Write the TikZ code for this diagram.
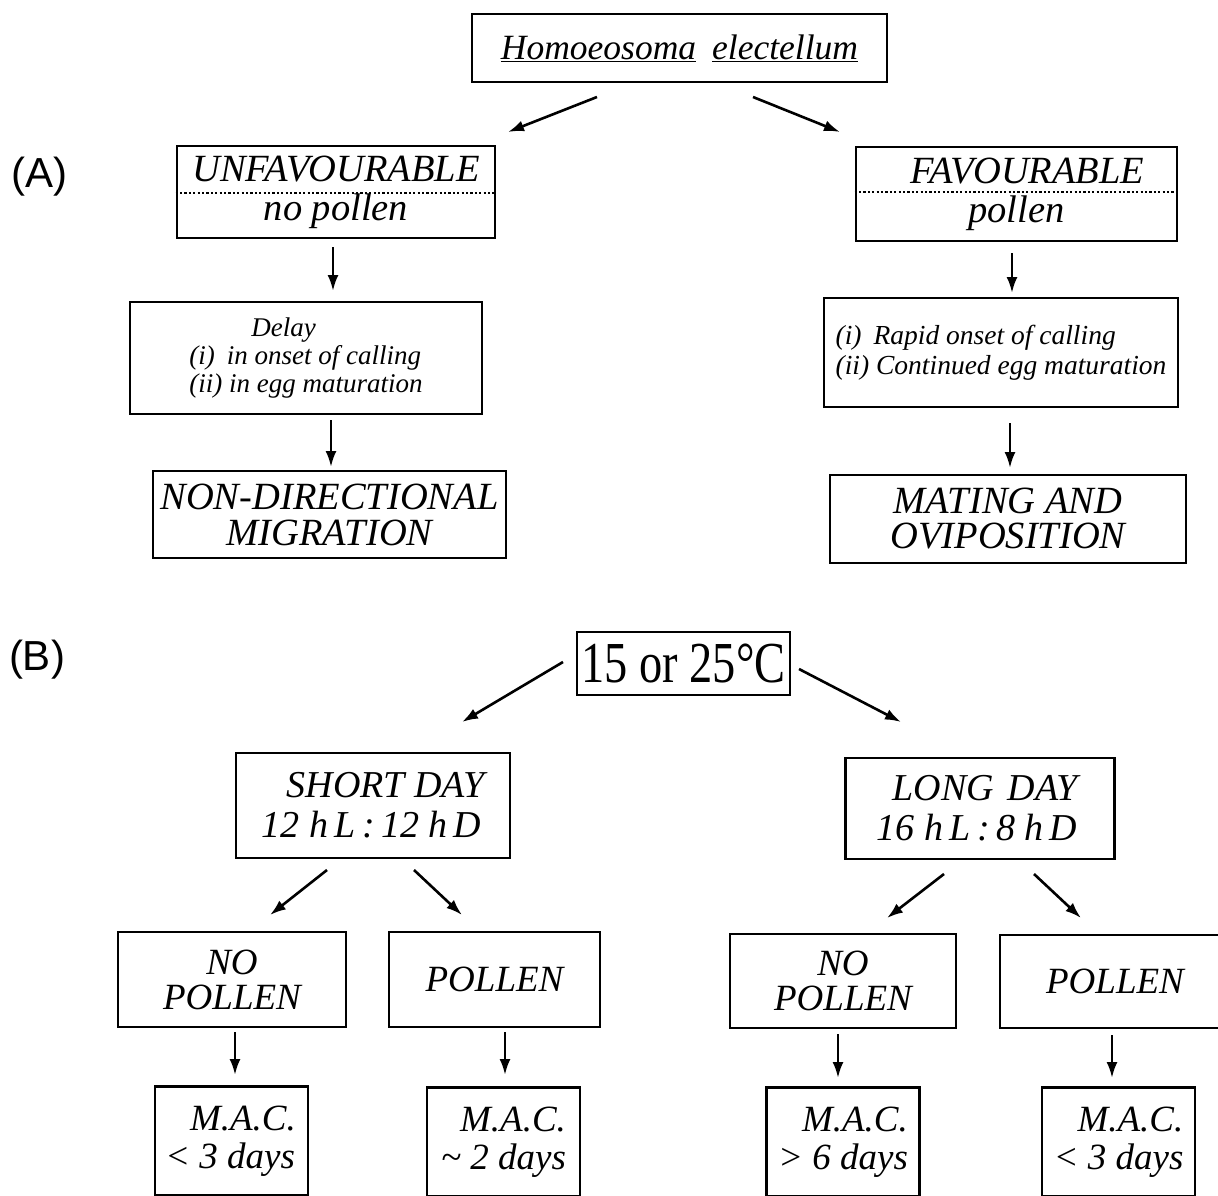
\documentclass[tikz,border=0pt]{standalone}
\usepackage{fontspec}
\usepackage{graphicx}
\setmainfont{Liberation Serif}
\newfontfamily\labfont{Liberation Sans}
\usetikzlibrary{arrows.meta}
\begin{document}
\begin{tikzpicture}[x=1pt,y=-1pt,
  box/.style={draw, line width=2.8pt, inner sep=0pt, align=center},
  bigit/.style={font=\fontsize{38.5}{39}\selectfont\itshape},
  smallit/.style={font=\fontsize{27}{28}\selectfont\itshape},
  arr/.style={line width=2.6pt, -{Latex[length=16pt,width=11pt]}},
  dotline/.style={line width=1.8pt, dash pattern=on 2.2pt off 2.2pt},
  panel/.style={font=\fontsize{42}{44}\selectfont\labfont}]
\useasboundingbox (0,0) rectangle (1218,1196);

% panel labels
\node[panel] (labA) at (39.5,177) {(A)};
\node[panel] (labB) at (37,660) {(B)};

% ---------- (A) ----------
\node[box, minimum width=415, minimum height=68, font=\fontsize{35.5}{38}\selectfont\itshape] (top) at (679.5,48)
  {\underline{Homoeosoma}\hspace{16pt}\underline{electellum}};

\node[box, bigit, minimum width=318, minimum height=92] (unf) at (336,192)
  {UNFAVOURABLE\\no pollen};
\draw[dotline] ([yshift=-1pt]unf.west) -- ([yshift=-1pt]unf.east);

\node[box, bigit, minimum width=321, minimum height=94] (fav) at (1016.5,194)
  {\hspace*{22pt}FAVOURABLE\\pollen};
\draw[dotline] ([yshift=2pt]fav.west) -- ([yshift=2pt]fav.east);

\node[box, smallit, align=left, minimum width=352, minimum height=112] (delay) at (306,358)
  {\hspace*{62pt}Delay\\(i)\hspace{12pt}in onset of calling\\(ii) in egg maturation};

\node[box, align=left, minimum width=354, minimum height=109,
  font=\fontsize{27.5}{30}\selectfont\itshape] (rapid) at (1001,352.5)
  {(i)\hspace{12pt}Rapid onset of calling\\(ii) Continued egg maturation};

\node[box, minimum width=353, minimum height=87, font=\fontsize{38.5}{36}\selectfont\itshape] (nondir) at (329.5,514.5)
  {NON-DIRECTIONAL\\MIGRATION};

\node[box, minimum width=356, minimum height=88, font=\fontsize{38.5}{35}\selectfont\itshape] (mating) at (1008,519)
  {MATING AND\\OVIPOSITION};

% arrows (A)
\coordinate (t1) at (597,97);   \coordinate (t1e) at (508,132);
\coordinate (t2) at (753,97);   \coordinate (t2e) at (840,132);
\coordinate (u1) at (333,247);  \coordinate (u1e) at (333,291);
\coordinate (d1) at (331,420);  \coordinate (d1e) at (331,467);
\coordinate (f1) at (1012,253); \coordinate (f1e) at (1012,293);
\coordinate (r1) at (1010,423); \coordinate (r1e) at (1010,468);
\draw[arr] (t1) -- (t1e);
\draw[arr] (t2) -- (t2e);
\draw[arr] (u1) -- (u1e);
\draw[arr] (d1) -- (d1e);
\draw[arr] (f1) -- (f1e);
\draw[arr] (r1) -- (r1e);

% ---------- (B) ----------
\node[box, minimum width=213, minimum height=63, font=\fontsize{58}{60}\selectfont] (temp) at (683.5,663.5)
  {\scalebox{0.8}[1]{15 or 25\textdegree C}};

\node[box, align=right, minimum width=274, minimum height=105, font=\fontsize{38}{40}\selectfont\itshape] (short) at (373,805.5)
  {SHORT DAY\\12 h\,L\,:\,12 h\,D\hspace*{3pt}};

\node[box, align=center, minimum width=269, minimum height=101, font=\fontsize{38}{40}\selectfont\itshape] (long) at (980,808.5)
  {\hspace*{10pt}LONG\hspace{14pt}DAY\\16 h\,L\,:\,8 h\,D\hspace*{6pt}};

\node[box, minimum width=228, minimum height=95, font=\fontsize{37}{35}\selectfont\itshape] (np1) at (232,979.5) {NO\\POLLEN};
\node[box, minimum width=211, minimum height=95, font=\fontsize{37}{35}\selectfont\itshape] (p1) at (494.5,979.5) {POLLEN};
\node[box, minimum width=226, minimum height=94, font=\fontsize{37}{35}\selectfont\itshape] (np2) at (843,981) {NO\\POLLEN};
\node[box, minimum width=230, minimum height=93, font=\fontsize{37}{35}\selectfont\itshape] (p2) at (1115,981.5) {POLLEN};

\tikzset{macbox/.style={box, align=right, minimum width=153, minimum height=109, font=\fontsize{37}{38}\selectfont\itshape}}
\node[macbox] (m1) at (231.5,1141) {M.A.C.\hspace*{2pt}\\< 3 days\hspace*{3pt}};
\node[macbox] (m2) at (503.5,1142) {M.A.C.\\\textasciitilde\ 2 days};
\node[macbox] (m3) at (843,1142) {M.A.C.\\> 6 days};
\node[macbox] (m4) at (1118.5,1142) {M.A.C.\\< 3 days};

% arrows (B)
\coordinate (c1) at (563,662);  \coordinate (c1e) at (462,722);
\coordinate (c2) at (799,669);  \coordinate (c2e) at (901,722);
\coordinate (s1) at (327,870);  \coordinate (s1e) at (270,915);
\coordinate (s2) at (414,870);  \coordinate (s2e) at (462,915);
\coordinate (l1) at (944,874);  \coordinate (l1e) at (887,918);
\coordinate (l2) at (1034,874); \coordinate (l2e) at (1081,918);
\coordinate (n1) at (235,1032); \coordinate (n1e) at (235,1075);
\coordinate (n2) at (505,1032); \coordinate (n2e) at (505,1075);
\coordinate (n3) at (838,1034); \coordinate (n3e) at (838,1078);
\coordinate (n4) at (1112,1035);\coordinate (n4e) at (1112,1078);
\draw[arr] (c1) -- (c1e);
\draw[arr] (c2) -- (c2e);
\draw[arr] (s1) -- (s1e);
\draw[arr] (s2) -- (s2e);
\draw[arr] (l1) -- (l1e);
\draw[arr] (l2) -- (l2e);
\draw[arr] (n1) -- (n1e);
\draw[arr] (n2) -- (n2e);
\draw[arr] (n3) -- (n3e);
\draw[arr] (n4) -- (n4e);
\end{tikzpicture}
\end{document}
